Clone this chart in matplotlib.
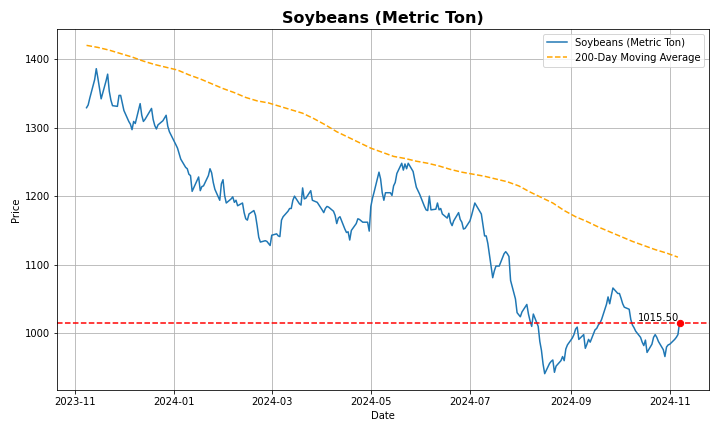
import pandas as pd
import matplotlib
matplotlib.use("Agg")
import matplotlib.pyplot as plt

# trading days shown on the chart
dates = pd.bdate_range("2023-11-08", "2024-11-07")

# closing prices, one row per week
prices = [
    1329, 1333, 1343,
    1370, 1386, 1372, 1357, 1342,
    1368, 1378, 1353, 1340, 1332,
    1331, 1347, 1347, 1336, 1325,
    1309, 1305, 1297, 1309, 1306,
    1335, 1318, 1309, 1312, 1316,
    1328, 1312, 1303, 1298, 1304,
    1310, 1314, 1318, 1302, 1294,
    1280, 1275, 1270, 1262, 1254,
    1242, 1240, 1232, 1230, 1207,
    1223, 1228, 1208, 1214, 1215,
    1230, 1240, 1234, 1220, 1210,
    1194, 1218, 1224, 1201, 1190,
    1196, 1199, 1191, 1194, 1186,
    1190, 1176, 1167, 1165, 1174,
    1179, 1172, 1157, 1140, 1133,
    1135, 1134, 1131, 1128, 1143,
    1145, 1142, 1141, 1165, 1170,
    1178, 1182, 1182, 1194, 1200,
    1189, 1187, 1212, 1196, 1197,
    1208, 1194, 1193, 1192, 1191,
    1180, 1176, 1182, 1185, 1184,
    1178, 1172, 1160, 1168, 1170,
    1152, 1147, 1148, 1136, 1150,
    1160, 1167, 1166, 1164, 1162,
    1162, 1149, 1185, 1197, 1206,
    1235, 1225, 1205, 1194, 1205,
    1205, 1201, 1215, 1220, 1233,
    1248, 1238, 1247, 1240, 1248,
    1236, 1224, 1213, 1208, 1203,
    1185, 1180, 1179, 1200, 1180,
    1181, 1190, 1180, 1182, 1174,
    1168, 1175, 1162, 1157, 1164,
    1176, 1166, 1162, 1152, 1153,
    1164, 1172, 1181, 1190, 1186,
    1174, 1158, 1142, 1142, 1131,
    1081, 1091, 1098, 1098, 1098,
    1116, 1119, 1116, 1112, 1077,
    1050, 1030, 1027, 1024, 1031,
    1042, 1028, 1018, 1010, 1028,
    1010, 988, 975, 955, 941,
    956, 959, 961, 943, 952,
    960, 966, 960, 977, 983,
    993, 998, 1006, 1009, 991,
    998, 978, 984, 991, 987,
    1005, 1007, 1012, 1015, 1020,
    1042, 1053, 1043, 1055, 1066,
    1058, 1058, 1051, 1043, 1038,
    1035, 1020, 1012, 1008, 1003,
    994, 987, 982, 990, 972,
    984, 994, 998, 994, 988,
    976, 966, 980, 983, 984,
    991, 994, 998, 1015.5,
]

# 200-day moving average, read once a week (every 5th trading day)
ma_dates = dates[::5]
ma_values = [
    1420, 1417, 1413, 1408, 1403, 1397, 1392, 1388, 1384, 1377,
    1371, 1364, 1357, 1351, 1344, 1339, 1336, 1331, 1326, 1321,
    1313, 1304, 1294, 1286, 1278, 1270, 1264, 1258, 1255, 1251,
    1248, 1244, 1239, 1235, 1232, 1229, 1225, 1221, 1215, 1206,
    1198, 1190, 1179, 1170, 1163, 1155, 1148, 1141, 1134, 1128,
    1122, 1117, 1111,
]

last_date = dates[-1]
last_price = prices[-1]

fig, ax = plt.subplots(figsize=(10, 6), dpi=72)
fig.subplots_adjust(left=0.079, right=0.985, top=0.933, bottom=0.097)

ax.plot(dates, prices, color="#1f77b4", linewidth=1.5, label="Soybeans (Metric Ton)")
ax.plot(ma_dates, ma_values, color="orange", linestyle="--", linewidth=1.5,
        label="200-Day Moving Average")
ax.axhline(last_price, color="red", linestyle="--", linewidth=1.5)
ax.scatter([last_date], [last_price], color="red", s=40, zorder=5)
ax.text(last_date, last_price, f"{last_price:.2f}", ha="right", va="bottom", fontsize=10)

ax.set_title("Soybeans (Metric Ton)", fontsize=16, fontweight="bold")
ax.set_xlabel("Date")
ax.set_ylabel("Price")
ax.grid(True)
ax.legend(loc="upper right")

fig.savefig("out.png", dpi=72)
